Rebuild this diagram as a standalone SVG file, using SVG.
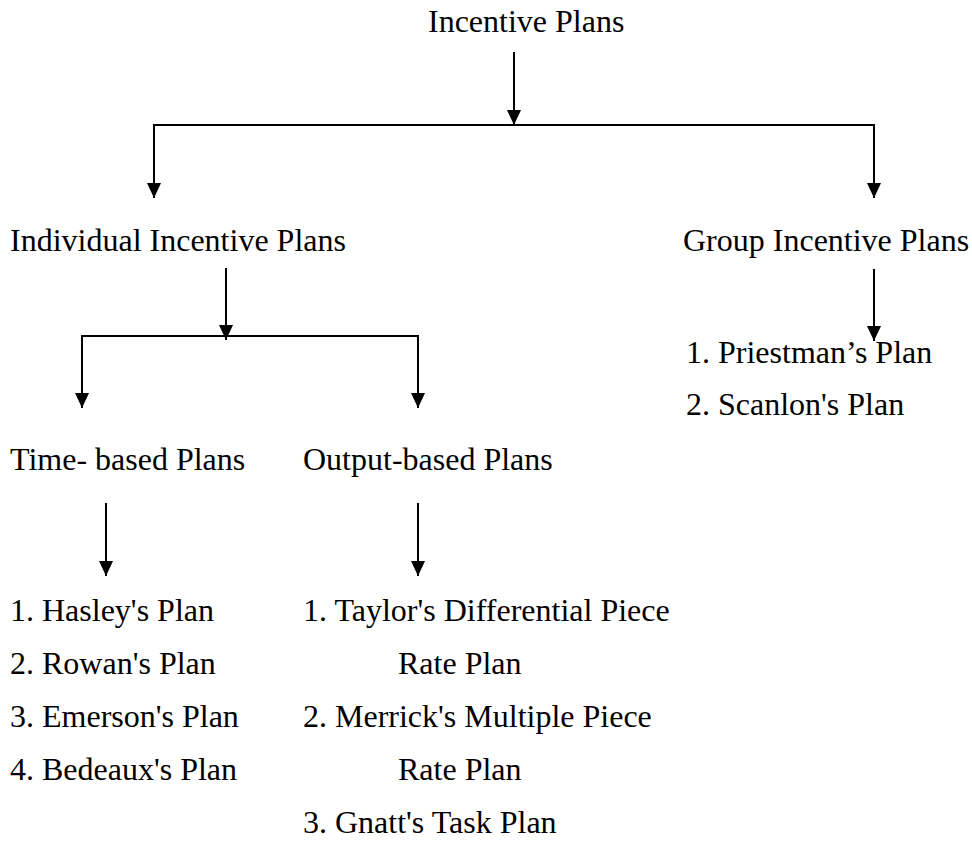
<svg xmlns="http://www.w3.org/2000/svg" width="972" height="865" viewBox="0 0 972 865">
<style>
text{font-family:"Liberation Serif","Times New Roman",serif;font-size:32px;fill:#000}
.c{stroke:#000;stroke-width:2;fill:none}
</style>
<defs>
<marker id="ah" viewBox="0 0 15 14" markerWidth="15" markerHeight="14" refX="15" refY="7" orient="auto" markerUnits="userSpaceOnUse">
<path d="M0,0 L15,7 L0,14 z" fill="#000"/>
</marker>
</defs>
<rect width="972" height="865" fill="#fff"/>
<g id="connectors">
<line class="c" x1="514" y1="52" x2="514" y2="125" marker-end="url(#ah)"/>
<polyline class="c" points="154,197 154,125 874,125 874,197"/>
<line class="c" x1="154" y1="125" x2="154" y2="198" marker-end="url(#ah)"/>
<line class="c" x1="874" y1="125" x2="874" y2="198" marker-end="url(#ah)"/>
<line class="c" x1="226" y1="268" x2="226" y2="340" marker-end="url(#ah)"/>
<polyline class="c" points="82,407 82,336 418,336 418,407"/>
<line class="c" x1="82" y1="336" x2="82" y2="408" marker-end="url(#ah)"/>
<line class="c" x1="418" y1="336" x2="418" y2="408" marker-end="url(#ah)"/>
<line class="c" x1="874" y1="269" x2="874" y2="341" marker-end="url(#ah)"/>
<line class="c" x1="106" y1="503" x2="106" y2="576" marker-end="url(#ah)"/>
<line class="c" x1="418" y1="503" x2="418" y2="576" marker-end="url(#ah)"/>
</g>
<g id="root"><text x="428" y="32">Incentive Plans</text></g>
<g id="individual"><text x="10" y="251">Individual Incentive Plans</text></g>
<g id="group"><text x="683" y="251">Group Incentive Plans</text>
<text x="686" y="363">1. Priestman’s Plan</text>
<text x="686" y="415">2. Scanlon's Plan</text></g>
<g id="time"><text x="10" y="470">Time- based Plans</text>
<text x="10" y="621">1. Hasley's Plan</text>
<text x="10" y="674">2. Rowan's Plan</text>
<text x="10" y="727">3. Emerson's Plan</text>
<text x="10" y="780">4. Bedeaux's Plan</text></g>
<g id="output"><text x="303" y="470">Output-based Plans</text>
<text x="303" y="621">1. Taylor's Differential Piece</text>
<text x="398" y="674">Rate Plan</text>
<text x="303" y="727">2. Merrick's Multiple Piece</text>
<text x="398" y="780">Rate Plan</text>
<text x="303" y="833">3. Gnatt's Task Plan</text></g>
</svg>
